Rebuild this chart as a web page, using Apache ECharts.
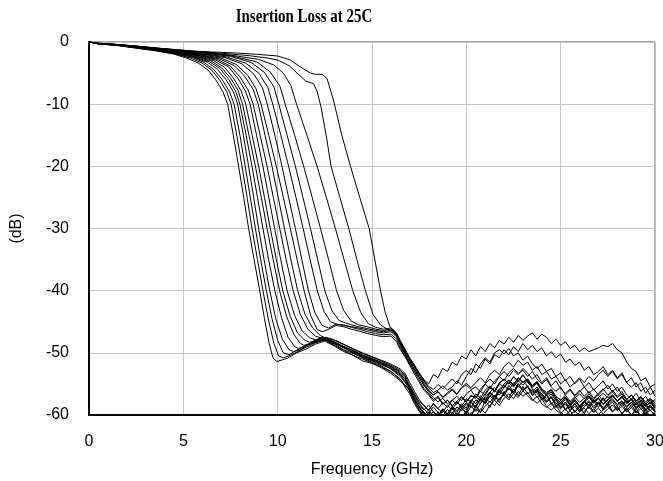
<!DOCTYPE html>
<html><head><meta charset="utf-8">
<script src="https://cdn.jsdelivr.net/npm/echarts@6/dist/echarts.min.js"></script>
<style>html,body{margin:0;padding:0;background:#fff}#c{width:663px;height:481px}</style>
</head><body><div id="c"></div>
<script>
const chartTitle = 'Insertion Loss at 25C';
const xName = 'Frequency (GHz)';
const yName = '(dB)';

// shared frequency grid (GHz) for the noisy high-frequency part of each trace
const tailFreq = [17,17.25,17.5,17.75,18,18.25,18.5,18.75,19,19.25,19.5,19.75,20,20.25,20.5,20.75,21,21.25,21.5,21.75,22,22.25,22.5,22.75,23,23.25,23.5,23.75,24,24.25,24.5,24.75,25,25.25,25.5,25.75,26,26.25,26.5,26.75,27,27.25,27.5,27.75,28,28.25,28.5,28.75,29,29.25,29.5,29.75,30];

// [GHz, dB] points for the passband, roll-off and floor of each trace
const c01Head = [[0,0],[0.5,-0.3],[1.5,-0.55],[2.5,-1.0],[3.5,-1.4],[4.5,-1.95],[5.2,-2.6],[5.8,-3.4],[6.3,-4.5],[6.7,-6],[7.1,-8],[7.35,-10],[7.65,-15],[7.93,-20],[8.2,-25],[8.46,-30],[8.75,-35],[9.05,-40],[9.3,-44.5],[9.55,-48.5],[9.75,-50.8],[9.95,-51.4],[10.5,-50.9],[11.0,-50.0],[11.5,-49.4],[12.0,-48.6],[12.5,-48.1],[13.0,-48.9],[13.5,-49.8],[14.0,-50.4],[14.5,-51.3],[15.0,-51.7],[15.5,-52.4],[16.0,-53.3],[16.5,-54.5],[16.75,-55.3]];
const c02Head = [[0,0],[0.5,-0.3],[1.5,-0.55],[2.5,-0.95],[3.5,-1.35],[4.5,-1.85],[5.4,-2.6],[6.0,-3.4],[6.5,-4.5],[6.9,-6],[7.3,-8],[7.53,-10],[7.83,-15],[8.11,-20],[8.38,-25],[8.64,-30],[8.93,-35],[9.22,-40],[9.5,-44.5],[9.8,-48.5],[10.05,-50.5],[10.3,-50.8],[10.6,-50.5],[11.0,-49.9],[11.5,-49.1],[12.0,-48.4],[12.5,-47.9],[13.0,-48.6],[13.5,-49.5],[14.0,-50.1],[14.5,-50.8],[15.0,-51.5],[15.5,-52.1],[16.0,-53.0],[16.5,-54.2],[16.75,-55.5]];
const c03Head = [[0,0],[0.5,-0.3],[1.5,-0.53],[2.5,-0.92],[3.5,-1.3],[4.5,-1.8],[5.5,-2.5],[6.1,-3.3],[6.6,-4.4],[7.05,-6],[7.45,-8],[7.69,-10],[8.0,-15],[8.28,-20],[8.55,-25],[8.82,-30],[9.1,-35],[9.4,-40],[9.7,-44.5],[10.0,-48],[10.3,-50],[10.6,-50.3],[11.0,-49.6],[11.5,-48.8],[12.0,-48.1],[12.5,-47.7],[13.0,-48.4],[13.5,-49.2],[14.0,-50.0],[14.5,-50.6],[15.0,-51.2],[15.5,-51.8],[16.0,-52.6],[16.5,-53.8],[16.75,-54.8]];
const c04Head = [[0,0],[0.5,-0.28],[1.5,-0.52],[2.5,-0.9],[3.5,-1.27],[4.5,-1.75],[5.5,-2.4],[6.3,-3.3],[6.8,-4.4],[7.25,-6],[7.65,-8],[7.88,-10],[8.18,-15],[8.46,-20],[8.73,-25],[8.99,-30],[9.28,-35],[9.58,-40],[9.9,-44.5],[10.25,-47.8],[10.6,-49.5],[10.85,-49.8],[11.2,-49.5],[11.6,-48.7],[12.0,-48.3],[12.5,-47.9],[13.0,-48.8],[13.5,-49.6],[14.0,-50.4],[14.5,-51.0],[15.0,-51.6],[15.5,-52.3],[16.0,-53.0],[16.5,-54.3],[16.75,-55.2]];
const c05Head = [[0,0],[0.5,-0.28],[1.5,-0.5],[2.5,-0.88],[3.5,-1.24],[4.5,-1.7],[5.5,-2.3],[6.4,-3.2],[6.95,-4.3],[7.4,-6],[7.78,-8],[8.0,-10],[8.33,-15],[8.64,-20],[8.93,-25],[9.22,-30],[9.52,-35],[9.85,-40],[10.2,-44.3],[10.55,-47.5],[10.9,-49],[11.1,-49.3],[11.5,-48.9],[12.0,-48.2],[12.5,-47.8],[13.0,-48.5],[13.5,-49.1],[14.0,-49.9],[14.5,-50.7],[15.0,-51.3],[15.5,-51.9],[16.0,-52.5],[16.5,-53.6],[16.75,-54.6]];
const c06Head = [[0,0],[0.5,-0.27],[1.5,-0.5],[2.5,-0.86],[3.5,-1.2],[4.5,-1.65],[5.5,-2.2],[6.5,-3.1],[7.05,-4.2],[7.5,-5.8],[7.9,-7.8],[8.14,-10],[8.48,-15],[8.82,-20],[9.13,-25],[9.44,-30],[9.76,-35],[10.1,-40],[10.48,-44.2],[10.85,-47],[11.2,-48.5],[11.4,-48.8],[11.8,-48.4],[12.2,-47.9],[12.6,-48.0],[13.0,-48.3],[13.5,-49.0],[14.0,-49.7],[14.5,-50.4],[15.0,-51.0],[15.5,-51.7],[16.0,-52.4],[16.5,-53.4],[16.75,-54.3]];
const c07Head = [[0,0],[0.5,-0.27],[1.5,-0.49],[2.5,-0.84],[3.5,-1.18],[4.5,-1.6],[5.5,-2.1],[6.6,-3.0],[7.2,-4.1],[7.65,-5.8],[8.05,-7.8],[8.31,-10],[8.65,-15],[8.99,-20],[9.3,-25],[9.61,-30],[9.93,-35],[10.27,-40],[10.65,-44],[11.05,-46.8],[11.45,-48],[11.7,-48.3],[12.0,-48.0],[12.4,-47.6],[12.8,-48.0],[13.2,-48.6],[13.6,-49.3],[14.0,-49.8],[14.5,-50.5],[15.0,-51.1],[15.5,-51.6],[16.0,-52.2],[16.5,-53.2],[16.75,-54.0]];
const c08Head = [[0,0],[0.5,-0.26],[1.5,-0.48],[2.5,-0.82],[3.5,-1.15],[4.5,-1.55],[5.5,-2.0],[6.7,-2.9],[7.4,-4.0],[7.88,-5.8],[8.28,-7.8],[8.54,-10],[8.88,-15],[9.22,-20],[9.53,-25],[9.84,-30],[10.16,-35],[10.5,-40],[10.9,-44],[11.3,-46.5],[11.7,-47.6],[12.0,-47.9],[12.3,-47.6],[12.7,-47.8],[13.1,-48.4],[13.5,-49.0],[14.0,-49.6],[14.5,-50.3],[15.0,-50.9],[15.5,-51.5],[16.0,-52.2],[16.5,-53.0],[16.75,-53.8]];
const c09Head = [[0,0],[0.5,-0.26],[1.5,-0.47],[2.5,-0.8],[3.5,-1.12],[4.5,-1.5],[5.5,-1.95],[6.8,-2.8],[7.5,-3.9],[8.0,-5.6],[8.43,-7.7],[8.7,-10],[9.07,-15],[9.44,-20],[9.77,-25],[10.11,-30],[10.45,-35],[10.82,-40],[11.2,-43.8],[11.6,-46.2],[12.0,-47.3],[12.3,-47.6],[12.6,-47.5],[13.0,-48.0],[13.5,-48.7],[14.0,-49.4],[14.5,-50.1],[15.0,-50.7],[15.5,-51.3],[16.0,-52.0],[16.5,-52.8],[16.75,-53.6]];
const c10Head = [[0,0],[0.5,-0.25],[1.5,-0.46],[2.5,-0.78],[3.5,-1.1],[4.5,-1.45],[5.5,-1.9],[6.9,-2.7],[7.7,-3.8],[8.25,-5.5],[8.7,-7.6],[8.97,-10],[9.33,-15],[9.70,-20],[10.03,-25],[10.36,-30],[10.7,-35],[11.06,-40],[11.45,-43.8],[11.85,-46],[12.25,-47.2],[12.6,-47.7],[12.9,-47.8],[13.3,-48.3],[13.7,-48.9],[14.1,-49.5],[14.5,-50.0],[15.0,-50.6],[15.5,-51.2],[16.0,-51.8],[16.5,-52.6],[16.75,-53.3]];
const c11Head = [[0,0],[0.5,-0.25],[1.5,-0.45],[2.5,-0.76],[3.5,-1.07],[4.5,-1.4],[5.5,-1.85],[7.0,-2.6],[7.8,-3.6],[8.4,-5.3],[8.85,-7.5],[9.12,-10],[9.53,-15],[9.93,-20],[10.3,-25],[10.67,-30],[11.03,-35],[11.4,-40],[11.75,-44],[12.1,-46.3],[12.4,-46.6],[12.7,-46.2],[13.1,-45.6],[13.5,-45.8],[13.9,-46.2],[14.3,-46.5],[14.75,-46.9],[15.2,-47.2],[15.6,-47.4],[16.0,-47.3],[16.3,-48.2],[16.5,-49.5],[16.75,-50.6]];
const c12Head = [[0,0],[0.5,-0.24],[1.5,-0.44],[2.5,-0.74],[3.5,-1.04],[4.5,-1.35],[5.5,-1.75],[7.2,-2.5],[8.1,-3.5],[8.75,-5.2],[9.2,-7.4],[9.45,-10],[9.85,-15],[10.23,-20],[10.58,-25],[10.94,-30],[11.28,-35],[11.63,-40],[11.98,-43.6],[12.35,-45.6],[12.7,-46.0],[13.1,-45.4],[13.5,-45.5],[13.9,-45.9],[14.3,-46.2],[14.75,-46.6],[15.2,-46.9],[15.6,-47.1],[16.0,-47.0],[16.3,-47.8],[16.5,-49.2],[16.75,-50.6]];
const c13Head = [[0,0],[0.5,-0.23],[1.5,-0.43],[2.5,-0.72],[3.5,-1.02],[4.5,-1.32],[5.5,-1.68],[7.3,-2.4],[8.3,-3.4],[9.0,-5.0],[9.48,-7.3],[9.74,-10],[10.17,-15],[10.58,-20],[10.97,-25],[11.35,-30],[11.72,-35],[12.1,-40],[12.45,-43.3],[12.8,-45.0],[13.15,-45.4],[13.5,-45.6],[13.9,-45.8],[14.3,-46.0],[14.75,-46.3],[15.2,-46.6],[15.6,-46.8],[16.0,-46.6],[16.3,-47.4],[16.5,-48.8],[16.75,-50.3]];
const c14Head = [[0,0],[0.5,-0.23],[1.5,-0.42],[2.5,-0.7],[3.5,-1.0],[4.5,-1.3],[5.5,-1.6],[7.5,-2.3],[8.6,-3.3],[9.3,-4.9],[9.8,-7.2],[10.06,-10],[10.5,-15],[10.94,-20],[11.34,-25],[11.74,-30],[12.12,-35],[12.5,-40],[12.87,-43.2],[13.25,-44.8],[13.6,-45.2],[13.9,-45.5],[14.3,-45.8],[14.75,-46.1],[15.2,-46.4],[15.6,-46.6],[16.0,-46.4],[16.3,-47.2],[16.5,-48.5],[16.75,-50.0]];
const c15Head = [[0,0],[0.5,-0.22],[1.5,-0.42],[2.5,-0.69],[3.5,-0.98],[4.5,-1.27],[5.5,-1.55],[7.5,-2.2],[8.9,-3.2],[9.6,-4.8],[10.12,-7.1],[10.4,-10],[10.9,-15],[11.38,-20],[11.83,-25],[12.27,-30],[12.7,-35],[13.12,-40],[13.5,-43.2],[13.9,-44.9],[14.3,-45.5],[14.75,-45.8],[15.2,-46.2],[15.6,-46.4],[16.0,-46.2],[16.3,-47.0],[16.5,-48.2],[16.75,-49.6]];
const c16Head = [[0,0],[0.5,-0.21],[1.5,-0.41],[2.5,-0.67],[3.5,-0.97],[4.5,-1.25],[5.5,-1.5],[7.5,-2.1],[9.0,-2.8],[9.8,-3.7],[10.3,-5.0],[10.7,-7.0],[11.0,-10],[11.55,-15],[12.09,-20],[12.58,-25],[13.06,-30],[13.52,-35],[13.98,-40],[14.4,-43.5],[14.8,-45.3],[15.2,-45.9],[15.6,-46.2],[16.0,-46.0],[16.3,-46.8],[16.5,-48.0],[16.75,-49.4]];
const c17Head = [[0,0],[0.5,-0.2],[1.5,-0.4],[2.5,-0.66],[3.5,-0.96],[4.5,-1.22],[5.5,-1.48],[7.0,-1.8],[8.5,-2.2],[9.5,-2.6],[10.0,-2.9],[10.6,-3.8],[11.1,-5.2],[11.5,-6.3],[11.9,-6.7],[12.1,-8],[12.3,-10.5],[12.57,-15],[12.83,-20],[13.3,-25],[13.77,-30],[14.2,-35],[14.65,-40],[15.05,-43.8],[15.45,-45.5],[15.8,-46.2],[16.1,-46.5],[16.3,-47.2],[16.5,-48.4],[16.75,-49.8]];
const c18Head = [[0,0],[0.5,-0.2],[1.5,-0.4],[2.5,-0.65],[3.5,-0.95],[4.5,-1.2],[5.5,-1.45],[6.5,-1.6],[8.0,-1.8],[9.0,-2.0],[10.0,-2.25],[10.67,-2.9],[11.2,-4.0],[11.74,-5.0],[12.0,-5.2],[12.36,-5.2],[12.62,-5.9],[12.97,-9.5],[13.4,-15],[13.86,-20],[14.35,-25],[14.85,-30],[15.15,-35],[15.45,-40],[15.7,-43.5],[15.95,-45.8],[16.2,-46.5],[16.4,-47.8],[16.6,-49.3],[16.8,-50.4]];

// dB values on tailFreq (noise region) for each trace
const c01Tail = [-56.0,-57.5,-58.6,-59.5,-60.3,-59.4,-60.6,-59.2,-60.4,-58.8,-60.1,-58.9,-59.6,-57.8,-58.9,-57.2,-58.1,-56.4,-57.5,-55.9,-56.8,-55.2,-56.3,-54.9,-56.1,-55.3,-56.9,-56.0,-57.6,-56.7,-58.3,-57.4,-58.9,-57.9,-59.3,-58.1,-59.4,-57.8,-59.0,-57.6,-58.8,-57.3,-58.6,-57.9,-59.2,-58.0,-59.4,-58.3,-59.6,-58.4,-59.8,-58.7,-59.5];
const c02Tail = [-56.6,-58.2,-59.4,-60.5,-59.6,-60.8,-59.5,-60.9,-59.8,-61.0,-59.7,-60.6,-59.3,-60.2,-58.4,-59.6,-57.6,-58.8,-56.9,-58.0,-56.2,-57.3,-55.8,-56.9,-55.4,-56.6,-55.9,-57.2,-56.5,-57.9,-57.1,-58.6,-57.6,-59.1,-58.2,-59.6,-58.5,-59.8,-58.3,-59.5,-57.9,-59.2,-58.1,-59.4,-58.6,-59.9,-58.8,-60.1,-58.9,-60.2,-59.1,-60.3,-59.4];
const c03Tail = [-55.3,-56.6,-57.9,-58.4,-59.3,-58.1,-59.0,-59.6,-58.4,-59.2,-57.9,-58.6,-57.4,-57.9,-56.6,-57.3,-56.0,-55.3,-56.1,-54.8,-54.2,-55.0,-53.9,-54.6,-53.6,-54.5,-55.2,-54.6,-55.8,-56.4,-55.9,-57.0,-57.6,-57.1,-58.0,-57.3,-56.6,-57.4,-56.9,-57.8,-57.2,-56.5,-57.3,-56.8,-57.7,-57.0,-57.9,-57.4,-58.3,-57.6,-58.6,-57.9,-58.8];
const c04Tail = [-55.9,-57.4,-58.8,-59.9,-60.6,-61.2,-60.3,-60.9,-61.4,-60.5,-61.1,-60.2,-60.8,-59.6,-60.3,-59.0,-59.7,-58.4,-57.6,-58.5,-57.3,-56.6,-57.4,-56.2,-57.0,-56.4,-57.5,-58.1,-57.4,-58.6,-59.2,-58.5,-59.6,-60.1,-59.3,-60.4,-59.6,-58.9,-59.8,-59.0,-59.9,-59.2,-58.6,-59.5,-58.8,-59.7,-59.1,-60.0,-59.3,-60.2,-59.5,-60.4,-59.7];
const c05Tail = [-56.3,-57.9,-59.1,-60.2,-59.1,-60.4,-61.0,-59.9,-60.7,-59.5,-60.3,-58.9,-59.8,-58.6,-59.4,-58.1,-57.2,-58.0,-56.8,-57.6,-56.4,-55.7,-56.6,-55.3,-56.1,-55.5,-56.8,-56.1,-57.3,-58.0,-57.2,-58.4,-59.0,-58.2,-59.3,-58.6,-59.5,-58.7,-57.9,-58.9,-58.1,-59.0,-58.3,-57.6,-58.6,-57.8,-58.8,-58.0,-59.0,-58.3,-59.3,-58.5,-59.4];
const c06Tail = [-55.6,-57.0,-58.3,-59.2,-58.4,-59.5,-60.1,-59.0,-59.8,-58.6,-59.3,-58.2,-58.9,-57.5,-58.2,-56.9,-57.6,-56.3,-55.6,-56.4,-55.0,-54.4,-55.3,-54.1,-54.8,-54.3,-55.5,-54.9,-56.2,-56.9,-56.3,-57.4,-58.0,-57.3,-58.3,-57.6,-58.5,-57.8,-57.0,-58.0,-57.3,-58.2,-57.5,-56.8,-57.7,-57.1,-58.0,-57.4,-58.3,-57.6,-58.5,-57.9,-58.7];
const c07Tail = [-56.0,-57.7,-59.2,-60.3,-61.0,-60.1,-60.8,-61.3,-60.2,-60.9,-60.0,-60.6,-59.5,-60.1,-59.0,-59.6,-58.6,-57.8,-58.5,-57.3,-56.8,-57.6,-56.5,-57.2,-56.1,-56.9,-57.7,-57.0,-58.2,-58.8,-58.1,-59.2,-59.8,-59.0,-60.0,-59.3,-60.2,-59.4,-58.7,-59.6,-58.9,-59.8,-59.0,-58.4,-59.3,-58.6,-59.5,-58.8,-59.7,-59.0,-59.9,-59.2,-60.1];
const c08Tail = [-55.8,-57.3,-58.7,-59.7,-60.4,-59.5,-60.2,-59.0,-59.9,-58.8,-59.6,-58.5,-59.2,-58.0,-58.7,-57.4,-58.1,-56.9,-57.6,-56.2,-56.9,-55.6,-56.4,-55.1,-55.9,-55.4,-56.5,-55.8,-57.0,-57.7,-57.0,-58.1,-58.7,-57.9,-58.9,-58.2,-59.1,-58.4,-57.7,-58.6,-57.9,-58.8,-58.1,-57.4,-58.3,-57.7,-58.6,-57.9,-58.8,-58.2,-59.0,-58.4,-59.2];
const c09Tail = [-55.3,-56.8,-58.1,-59.0,-59.8,-58.7,-59.6,-60.2,-59.1,-59.8,-58.7,-59.3,-58.2,-58.8,-57.6,-58.2,-57.0,-56.3,-57.1,-55.8,-55.2,-56.0,-54.8,-55.5,-54.6,-55.4,-56.2,-55.5,-56.7,-57.3,-56.6,-57.7,-58.3,-57.5,-58.5,-57.8,-58.7,-58.0,-57.2,-58.1,-57.4,-58.3,-57.6,-56.9,-57.8,-57.2,-58.1,-57.5,-58.4,-57.8,-58.7,-58.0,-58.9];
const c10Tail = [-54.8,-56.2,-57.5,-58.5,-59.2,-58.3,-59.0,-58.0,-58.8,-57.6,-58.3,-57.2,-57.9,-56.8,-57.4,-56.2,-56.8,-55.6,-56.3,-55.0,-55.6,-54.4,-55.1,-54.0,-54.7,-54.2,-55.3,-54.7,-55.9,-56.6,-55.9,-57.0,-57.6,-56.8,-57.8,-57.1,-58.0,-57.3,-56.6,-57.5,-56.8,-57.7,-57.0,-56.3,-57.2,-56.6,-57.5,-56.8,-57.7,-57.1,-57.9,-57.3,-58.1];
const c11Tail = [-51.6,-52.8,-54.0,-55.2,-56.0,-56.8,-56.2,-57.1,-56.4,-55.8,-56.6,-55.6,-55.2,-55.9,-55.5,-56.3,-55,-54.2,-55,-53.8,-53,-53.8,-52.8,-53.5,-52.5,-53.3,-54.2,-53.5,-54.8,-54,-55.3,-54.5,-55.8,-56.5,-55.8,-56.8,-56,-57,-56.2,-57.3,-56.5,-55.8,-56.8,-56,-57,-56.2,-57.5,-56.8,-57.8,-57,-58.2,-57.5,-58.8];
const c12Tail = [-52.0,-53.4,-54.7,-56.0,-56.8,-57.8,-57.2,-58.3,-57.6,-58.6,-57.8,-58.9,-58.0,-58.6,-58.5,-57.5,-58.2,-57,-56,-56.8,-55.5,-54.8,-55.5,-54.5,-55.2,-54.5,-55.8,-56.5,-57.5,-56.8,-58,-58.8,-58,-59.2,-58.5,-59.5,-58.8,-57.8,-58.5,-57.5,-58.3,-57.2,-58,-57,-57.8,-58.5,-57.5,-58.8,-58,-59,-58.2,-59.3,-58.5];
const c13Tail = [-51.8,-53.0,-54.4,-55.7,-56.6,-57.5,-57.0,-58.2,-57.6,-58.5,-57.8,-57.0,-57.8,-57.0,-57,-57.8,-56.5,-55.5,-56.2,-55,-54.2,-55,-53.8,-54.5,-53.5,-54.8,-55.5,-54.8,-56,-56.8,-56,-57.3,-58,-57.2,-58.3,-57.5,-58.5,-57.8,-57,-58,-57.2,-58.3,-57.5,-56.8,-57.8,-57,-58.2,-57.5,-58.8,-58,-59.2,-58.5,-59.5];
const c14Tail = [-51.4,-52.6,-53.9,-55.2,-56.3,-57.2,-57.9,-57.3,-58.2,-57.6,-57.0,-57.7,-56.6,-56.0,-57.2,-55.8,-55,-55.8,-54.5,-53.8,-54.5,-53.2,-52.5,-53.3,-52.8,-53.8,-53,-54.2,-55,-54.3,-55.5,-56.2,-55.5,-56.8,-56,-57,-56.3,-55.5,-56.5,-55.8,-56.8,-56,-55.2,-56.3,-55.5,-56.8,-57.5,-56.8,-58,-57.2,-58.3,-57.5,-58.5];
const c15Tail = [-51.0,-52.3,-53.6,-54.9,-56.0,-56.8,-56.3,-57.2,-56.6,-56.0,-56.7,-55.6,-54.9,-55.6,-54.8,-54,-54.8,-53.5,-52.8,-53.5,-52.2,-51.5,-52.3,-51.2,-52,-51.5,-52.8,-52.2,-53.5,-53,-54.2,-53.8,-55,-54.3,-55.5,-54.8,-54,-54.8,-53.8,-54.5,-53.5,-52.8,-53.8,-53,-54.2,-53.5,-54.8,-55.5,-54.8,-56.2,-55.5,-56.8,-56];
const c16Tail = [-50.8,-52.0,-53.4,-54.6,-55.6,-56.4,-56.0,-55.3,-56.0,-55.5,-54.5,-55.2,-53.8,-52.5,-53.2,-51.8,-50.8,-51.5,-50,-49.5,-50.2,-49.3,-50.5,-50,-51.2,-50.5,-51.8,-52.5,-51.8,-53,-52.5,-53.8,-53.2,-54.5,-53.8,-55,-54.2,-55.5,-54.8,-56,-55.3,-54.5,-55.8,-55,-56.2,-55.5,-56.8,-57.5,-56.5,-57.8,-57,-58.2,-57.5];
const c17Tail = [-50.9,-52.0,-53.2,-54.4,-55.4,-55.9,-55.1,-55.8,-55,-54.2,-55,-53.5,-52.8,-53.5,-51.8,-52.5,-51,-51.8,-50.3,-50.8,-49.5,-50.3,-49,-49.8,-48.5,-49.5,-48.8,-49.8,-49.2,-50.5,-49.8,-50.8,-50.2,-51.5,-51,-52,-51.5,-52.8,-52.2,-53.5,-53,-52.2,-53.5,-52.8,-54,-53.2,-54.8,-54,-55.5,-54.8,-56.5,-55.5,-57];
const c18Tail = [-51.2,-52.2,-53.3,-54.3,-55,-53.5,-54,-52.5,-53,-51.5,-52,-50.5,-51,-49.5,-50.5,-49,-49.8,-48.5,-49.2,-48,-48.6,-47.5,-48.3,-47.2,-48,-47.3,-46.8,-47.8,-47,-47.5,-48.5,-47.8,-48.8,-48.2,-49.3,-48.8,-49.8,-49.2,-49.8,-49.5,-49.2,-48.8,-49,-48.5,-49.5,-50,-51.5,-52.5,-53,-54.5,-54,-55.5,-55];

const traces = [
  [c01Head,c01Tail],[c02Head,c02Tail],[c03Head,c03Tail],[c04Head,c04Tail],[c05Head,c05Tail],[c06Head,c06Tail],
  [c07Head,c07Tail],[c08Head,c08Tail],[c09Head,c09Tail],[c10Head,c10Tail],[c11Head,c11Tail],[c12Head,c12Tail],
  [c13Head,c13Tail],[c14Head,c14Tail],[c15Head,c15Tail],[c16Head,c16Tail],[c17Head,c17Tail],[c18Head,c18Tail]
];

const series = traces.map(function (t, i) {
  return {
    type: 'line',
    name: 'trace' + (i + 1),
    data: t[0].concat(t[1].map(function (v, j) { return [tailFreq[j], v]; })),
    symbol: 'none',
    showSymbol: false,
    clip: true,
    silent: true,
    lineStyle: { color: '#000', width: 1 }
  };
});

const chart = echarts.init(document.getElementById('c'), null, { renderer: 'canvas' });
chart.setOption({
  animation: false,
  backgroundColor: '#fff',
  graphic: [{
    type: 'text',
    x: 304, y: 17,
    scaleX: 0.83,
    silent: true,
    style: {
      text: chartTitle,
      x: 0, y: 0,
      textAlign: 'center', textVerticalAlign: 'middle',
      align: 'center', verticalAlign: 'middle',
      font: 'bold 18px "Liberation Serif"',
      fill: '#000'
    }
  }],
  grid: { left: 89, right: 8, top: 42, bottom: 66, outerBoundsMode: 'none', containLabel: false, show: true, borderColor: '#505050', borderWidth: 1, backgroundColor: 'transparent' },
  xAxis: {
    type: 'value', min: 0, max: 30, interval: 5,
    name: xName, nameLocation: 'middle', nameGap: 47,
    nameTextStyle: { fontFamily: 'Liberation Sans', fontSize: 16, color: '#000' },
    axisLine: { show: true, onZero: false, lineStyle: { color: '#000', width: 2 } },
    axisTick: { show: false },
    axisLabel: { fontFamily: 'Liberation Sans', fontSize: 16, color: '#000', margin: 19 },
    splitLine: { show: true, lineStyle: { color: '#c4c4c4', width: 1 } }
  },
  yAxis: {
    type: 'value', min: -60, max: 0, interval: 10,
    name: yName, nameLocation: 'middle', nameGap: 64, nameRotate: 90,
    nameTextStyle: { fontFamily: 'Liberation Sans', fontSize: 16, color: '#000' },
    axisLine: { show: true, onZero: false, lineStyle: { color: '#000', width: 2 } },
    axisTick: { show: false },
    axisLabel: { fontFamily: 'Liberation Sans', fontSize: 16, color: '#000', margin: 20 },
    splitLine: { show: true, lineStyle: { color: '#c4c4c4', width: 1 } }
  },
  series: series
});
</script>
</body></html>
